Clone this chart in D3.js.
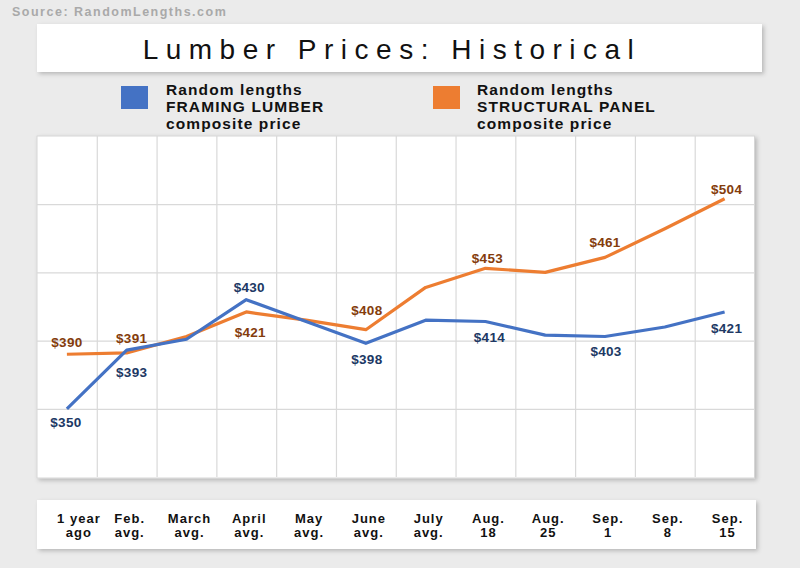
<!DOCTYPE html>
<html>
<head>
<meta charset="utf-8">
<script src="https://cdn.jsdelivr.net/npm/d3@7/dist/d3.min.js"></script>
<style>
  html, body { margin: 0; padding: 0; background: #ebebeb; }
  svg { display: block; font-family: "Liberation Sans", Arial, sans-serif; }
</style>
</head>
<body>
<svg id="chart" width="800" height="568"></svg>
<script>
// ---------- data ----------
const categories = [
  ["1 year", "ago"], ["Feb.", "avg."], ["March", "avg."], ["April", "avg."],
  ["May", "avg."], ["June", "avg."], ["July", "avg."], ["Aug.", "18"],
  ["Aug.", "25"], ["Sep.", "1"], ["Sep.", "8"], ["Sep.", "15"]
];
const framingLumber   = [350, 393, 401, 430, 414, 398, 415, 414, 404, 403, 410, 421];
const structuralPanel = [390, 391, 403, 421, 415, 408, 439, 453, 450, 461, 482, 504];
const yTicks = [300, 350, 400, 450, 500, 550];
const labeledIdx = [0, 1, 3, 5, 7, 9, 11];
const seriesNames = [
  ["Random lengths", "FRAMING LUMBER", "composite price"],
  ["Random lengths", "STRUCTURAL PANEL", "composite price"]
];

// ---------- layout / style ----------
const blueLabelOffset   = {0:[-1,13], 1:[5,22], 3:[3,-12], 5:[1,16], 7:[4,16], 9:[1,15], 11:[2,16]};
const orangeLabelOffset = {0:[0,-12], 1:[5,-15], 3:[4,20], 5:[1,-19], 7:[2,-10], 9:[0,-15], 11:[2,-9]};
const colors = { blue: "#4472c4", orange: "#ed7d31", blueText: "#203864", orangeText: "#843c0c" };

const svg = d3.select("#chart");
const defs = svg.append("defs");
const f = defs.append("filter").attr("id", "shadow").attr("x", "-5%").attr("y", "-10%").attr("width", "110%").attr("height", "130%");
f.append("feDropShadow").attr("dx", 2).attr("dy", 2).attr("stdDeviation", 2).attr("flood-color", "#000").attr("flood-opacity", 0.22);

// source
svg.append("text").attr("x", 12).attr("y", 16)
  .attr("font-size", 12.5).attr("font-weight", "bold").attr("fill", "#a9a9a9")
  .attr("letter-spacing", 1.5).text("Source: RandomLengths.com");

// title box
svg.append("rect").attr("x", 37).attr("y", 24).attr("width", 725).attr("height", 48)
  .attr("fill", "#fff").attr("filter", "url(#shadow)");
svg.append("text").attr("x", 392).attr("y", 59).attr("text-anchor", "middle")
  .attr("font-size", 28).attr("fill", "#111").attr("letter-spacing", 7.5)
  .text("Lumber Prices: Historical");

// legend
const legendItems = [
  { x: 121, tx: 166, color: colors.blue, lines: seriesNames[0] },
  { x: 433, tx: 477, color: colors.orange, lines: seriesNames[1] }
];
legendItems.forEach(it => {
  svg.append("rect").attr("x", it.x).attr("y", 86).attr("width", 27).attr("height", 23).attr("fill", it.color);
  const t = svg.append("text").attr("x", it.tx).attr("y", 95)
    .attr("font-size", 15.5).attr("font-weight", "bold").attr("fill", "#111").attr("letter-spacing", 1.1);
  it.lines.forEach((l, i) => t.append("tspan").attr("x", it.tx).attr("dy", i === 0 ? 0 : 17).text(l));
});

// plot panel
const px0 = 37, px1 = 754.5, py0 = 136, py1 = 477;
svg.append("rect").attr("x", px0).attr("y", py0).attr("width", px1 - px0).attr("height", py1 - py0 + 1)
  .attr("fill", "#fff").attr("stroke", "#d6d6d6").attr("stroke-width", 1).attr("filter", "url(#shadow)");

const x = d3.scaleBand().domain(d3.range(categories.length)).range([px0, px1]).paddingInner(0).paddingOuter(0);
const xEdge = d3.scaleLinear().domain([0, categories.length]).range([px0, px1]);
const y = d3.scaleLinear().domain([300, 550]).range([py1, py0]);

// gridlines
const gx = svg.append("g").attr("transform", `translate(0,${py1})`)
  .call(d3.axisBottom(xEdge).tickValues(d3.range(1, categories.length)).tickSize(-(py1 - py0)).tickFormat(""));
gx.select(".domain").remove();
gx.selectAll("line").attr("stroke", "#d9d9d9").attr("stroke-width", 1.2);

const gy = svg.append("g").attr("transform", `translate(${px0},0)`)
  .call(d3.axisLeft(y).tickValues(yTicks.slice(1, -1)).tickSize(-(px1 - px0)).tickFormat(""));
gy.select(".domain").remove();
gy.selectAll("line").attr("stroke", "#d9d9d9").attr("stroke-width", 1.2);

// lines
const cx = i => x(i) + x.bandwidth() / 2;
const line = d3.line().x((d, i) => cx(i)).y(d => y(d));
svg.append("path").datum(structuralPanel).attr("d", line)
  .attr("fill", "none").attr("stroke", colors.orange).attr("stroke-width", 3.2).attr("stroke-linejoin", "round");
svg.append("path").datum(framingLumber).attr("d", line)
  .attr("fill", "none").attr("stroke", colors.blue).attr("stroke-width", 3.2).attr("stroke-linejoin", "round");

// data labels
function drawLabels(data, offsets, color) {
  svg.append("g").selectAll("text").data(labeledIdx).join("text")
    .attr("x", i => cx(i) + offsets[i][0])
    .attr("y", i => y(data[i]) + offsets[i][1])
    .attr("dy", "0.35em")
    .attr("text-anchor", "middle")
    .attr("font-size", 13.5).attr("font-weight", "bold").attr("letter-spacing", 0.3)
    .attr("fill", color)
    .text(i => "$" + data[i]);
}
drawLabels(structuralPanel, orangeLabelOffset, colors.orangeText);
drawLabels(framingLumber, blueLabelOffset, colors.blueText);

// x label box
svg.append("rect").attr("x", 37).attr("y", 500).attr("width", 719).attr("height", 49)
  .attr("fill", "#fff").attr("filter", "url(#shadow)");
const xa = svg.append("g").attr("transform", "translate(3,509)")
  .call(d3.axisBottom(x).tickSize(0).tickFormat(""));
xa.select(".domain").remove();
xa.selectAll(".tick").each(function(i) {
  const t = d3.select(this).append("text")
    .attr("x", i === 0 ? 9 : 0).attr("y", 14)
    .attr("text-anchor", "middle").attr("fill", "#111")
    .attr("font-size", 13).attr("font-weight", "bold").attr("letter-spacing", 1)
    .attr("font-family", "Liberation Sans, Arial, sans-serif");
  categories[i].forEach((l, k) => t.append("tspan").attr("x", i === 0 ? 9 : 0).attr("dy", k === 0 ? 0 : 14).text(l));
});
</script>
</body>
</html>
